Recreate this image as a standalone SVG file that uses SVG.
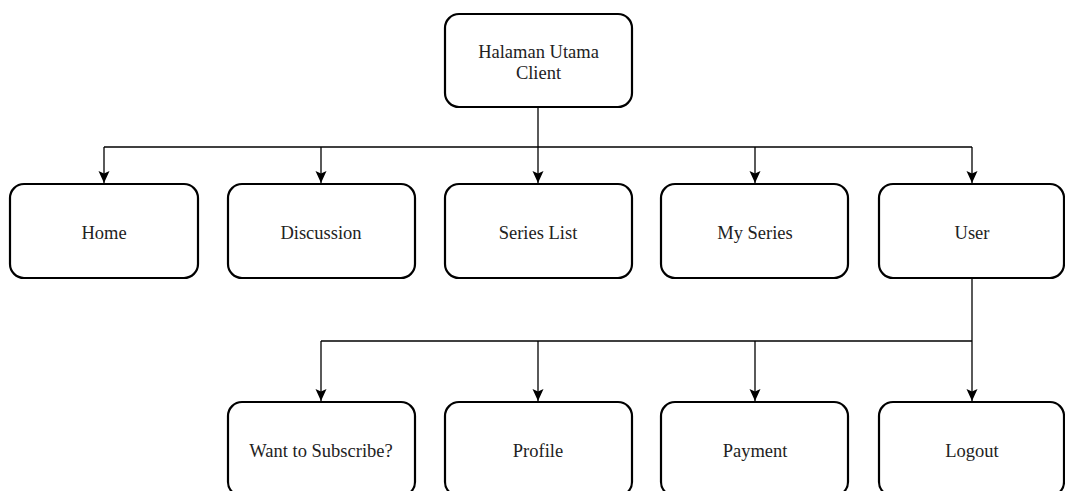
<svg xmlns="http://www.w3.org/2000/svg" width="1065" height="491" viewBox="0 0 1065 491">
  <style>
    .box { fill: #ffffff; stroke: #000000; stroke-width: 2.2; }
    .lbl { font-family: "Liberation Serif", "Times New Roman", serif; font-size: 18.5px; fill: #222222; text-anchor: middle; dominant-baseline: central; }
    .wire { fill: none; stroke: #000000; stroke-width: 1.3; }
  </style>
  <defs>
    <marker id="arrow" viewBox="0 0 12 12" refX="12" refY="6" markerWidth="12" markerHeight="12" markerUnits="userSpaceOnUse" orient="auto">
      <path d="M0,0.5 L12,6 L0,11.5 L2.5,6 Z" fill="#000000"/>
    </marker>
  </defs>
  <rect width="1065" height="491" fill="#ffffff"/>

  <g id="connectors">
    <path class="wire" d="M538,107 V147"/>
    <path class="wire" d="M104,147 H972"/>
    <path class="wire" d="M104,147 V183" marker-end="url(#arrow)"/>
    <path class="wire" d="M321,147 V183" marker-end="url(#arrow)"/>
    <path class="wire" d="M538,147 V183" marker-end="url(#arrow)"/>
    <path class="wire" d="M755,147 V183" marker-end="url(#arrow)"/>
    <path class="wire" d="M972,147 V183" marker-end="url(#arrow)"/>
    <path class="wire" d="M972,278 V341"/>
    <path class="wire" d="M321,341 H972"/>
    <path class="wire" d="M321,341 V401" marker-end="url(#arrow)"/>
    <path class="wire" d="M538,341 V401" marker-end="url(#arrow)"/>
    <path class="wire" d="M755,341 V401" marker-end="url(#arrow)"/>
    <path class="wire" d="M972,341 V401" marker-end="url(#arrow)"/>
  </g>

  <g id="node-root">
    <rect class="box" x="445" y="14" width="187" height="93" rx="14"/>
    <text class="lbl" x="538.5" y="52">Halaman Utama</text>
    <text class="lbl" x="538.5" y="73">Client</text>
  </g>

  <g id="node-home">
    <rect class="box" x="10" y="184" width="188" height="94" rx="14"/>
    <text class="lbl" x="104" y="233">Home</text>
  </g>
  <g id="node-discussion">
    <rect class="box" x="228" y="184" width="187" height="94" rx="14"/>
    <text class="lbl" x="321" y="233">Discussion</text>
  </g>
  <g id="node-series-list">
    <rect class="box" x="445" y="184" width="187" height="94" rx="14"/>
    <text class="lbl" x="538" y="233">Series List</text>
  </g>
  <g id="node-my-series">
    <rect class="box" x="661" y="184" width="187" height="94" rx="14"/>
    <text class="lbl" x="755" y="233">My Series</text>
  </g>
  <g id="node-user">
    <rect class="box" x="879" y="184" width="185" height="94" rx="14"/>
    <text class="lbl" x="972" y="233">User</text>
  </g>

  <g id="node-subscribe">
    <rect class="box" x="228" y="402" width="187" height="94" rx="14"/>
    <text class="lbl" x="321" y="451">Want to Subscribe?</text>
  </g>
  <g id="node-profile">
    <rect class="box" x="445" y="402" width="187" height="94" rx="14"/>
    <text class="lbl" x="538" y="451">Profile</text>
  </g>
  <g id="node-payment">
    <rect class="box" x="661" y="402" width="187" height="94" rx="14"/>
    <text class="lbl" x="755" y="451">Payment</text>
  </g>
  <g id="node-logout">
    <rect class="box" x="879" y="402" width="185" height="94" rx="14"/>
    <text class="lbl" x="972" y="451">Logout</text>
  </g>
</svg>
